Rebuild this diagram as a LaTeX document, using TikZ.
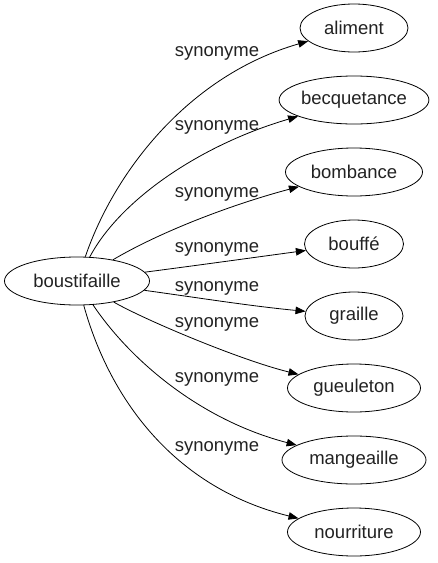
\documentclass[tikz,border=0pt]{standalone}
\usepackage{fontspec}
\setmainfont{Liberation Sans}
\usetikzlibrary{arrows.meta,shapes.geometric}
\definecolor{ink}{HTML}{000000}
\definecolor{label}{HTML}{222222}
\tikzset{
  >={Triangle[length=10pt,width=7.5pt]},
  every node/.style={font=\fontsize{18.5}{22}\selectfont, text=label},
  term/.style={ellipse, draw=ink, line width=0.8pt, inner sep=0pt, minimum height=48pt},
  rel/.style={->, draw=ink, line width=0.8pt},
  tag/.style={anchor=center, inner sep=0pt},
}

\begin{document}
\begin{tikzpicture}[x=1pt,y=-1pt]
\useasboundingbox (0,0) rectangle (437,563);

% ================= head word =================
\node[term, minimum width=145pt] (boust) at (77,281) {boustifaille};

% ================= synonyms, one column =================
\foreach \n/\txt/\w [count=\k from 0] in {aliment/aliment/108, becq/becquetance/148,
    bomb/bombance/137, bouf/bouffé/99, grail/graille/98, gueul/gueuleton/133,
    mang/mangeaille/144, nourr/nourriture/133}{
  \node[term, minimum width=\w pt] (\n) at (354,28+72*\k) {\txt};
}

% ================= edges (controls / label height) =================
\foreach \n/\ax/\ay/\bx/\by/\ly in {aliment/115/170/190/75/53, becq/120/200/200/145/127,
    bomb/160/232/230/205/194, bouf/200/265/250/258/249, grail/200/298/250/306/288,
    gueul/145/320/240/360/324, mang/130/360/200/420/379, nourr/110/400/175/488/448}{
  \draw[rel] (boust) .. controls (\ax,\ay) and (\bx,\by) .. (\n);
  \node[tag] (lab-\n) at (217,\ly) {synonyme};
}

\end{tikzpicture}
\end{document}
